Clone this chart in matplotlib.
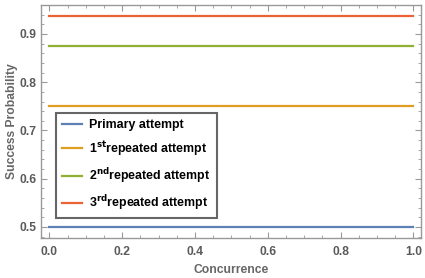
import numpy as np
import matplotlib.pyplot as plt
from matplotlib.ticker import MultipleLocator

plt.rcParams['font.family'] = ['Liberation Sans', 'DejaVu Sans']

# data
concurrence = [0.0, 1.0]
primary = [0.5, 0.5]
rep1 = [0.75, 0.75]
rep2 = [0.875, 0.875]
rep3 = [0.9375, 0.9375]
labels = ['Primary attempt', r'1$^{\mathbf{st}}$repeated attempt',
          r'2$^{\mathbf{nd}}$repeated attempt', r'3$^{\mathbf{rd}}$repeated attempt']
colors = ['#5E81B5', '#E19C24', '#8FB032', '#EB6235']

fig = plt.figure(figsize=(4.25, 2.78), dpi=100)
ax = fig.add_axes([41/425, 1-238/278, (420.7-41)/425, (238-5)/278])

for ys, c, lab in zip([primary, rep1, rep2, rep3], colors, labels):
    ax.plot(concurrence, ys, color=c, lw=1.6, label=lab)

ax.set_xlim(-0.0228, 1.0203)
ax.set_ylim(0.4772, 0.9600)
ax.xaxis.set_major_locator(MultipleLocator(0.2))
ax.xaxis.set_minor_locator(MultipleLocator(0.05))
ax.yaxis.set_major_locator(MultipleLocator(0.1))
ax.yaxis.set_minor_locator(MultipleLocator(0.02))
ax.xaxis.set_major_formatter(plt.FuncFormatter(lambda v, p: '%.1f' % v))
ax.yaxis.set_major_formatter(plt.FuncFormatter(lambda v, p: '%.1f' % v))

fc = '#999999'
for s in ax.spines.values():
    s.set_color(fc)
    s.set_linewidth(1.0)
ax.tick_params(which='both', direction='in', top=True, right=True, color=fc,
               labelcolor='#5a5a5a', labelsize=8.7)
ax.tick_params(axis='x', pad=6)
ax.tick_params(axis='y', pad=3.5)
ax.tick_params(which='major', length=4, width=0.8)
ax.tick_params(which='minor', length=2.2, width=0.6)
for t in ax.get_xticklabels() + ax.get_yticklabels():
    t.set_fontweight('bold')

ax.set_xlabel('Concurrence', color='#666666', fontsize=8.7, fontweight='bold', labelpad=4)
ax.set_ylabel('Success Probability', color='#666666', fontsize=8.7, fontweight='bold', labelpad=1)

leg = ax.legend(loc='lower left', bbox_to_anchor=(14.7/379.7, 19.7/233), fancybox=False,
                frameon=True, prop={'size': 8.9, 'weight': 'bold'},
                handlelength=1.6, handletextpad=0.6, labelspacing=0.66,
                borderpad=0.5, borderaxespad=0)
leg.get_frame().set_edgecolor('#666666')
leg.get_frame().set_linewidth(1.5)
leg.get_frame().set_alpha(1)

fig.savefig('out.png', dpi=100)
